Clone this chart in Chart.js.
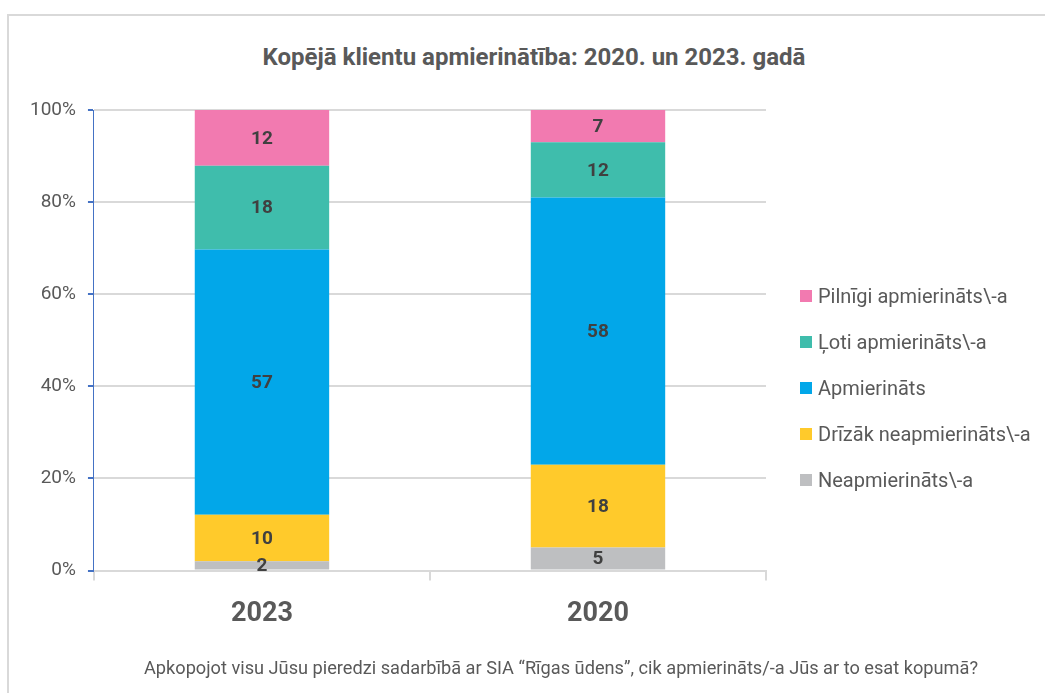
<!DOCTYPE html>
<html>
<head>
<meta charset="utf-8">
<script src="https://cdn.jsdelivr.net/npm/chart.js@4.4.1/dist/chart.umd.min.js"></script>
<style>
  html, body { margin: 0; padding: 0; background: #fff; }
  body { width: 1045px; height: 693px; position: relative; overflow: hidden; font-family: Roboto, sans-serif; }
  .frame { position: absolute; left: 7px; top: 14px; right: -10px; bottom: -10px; border: 2px solid #d9d9d9; }
  .wrap { position: absolute; left: 0; top: 0; width: 1045px; height: 693px; }
  .title { position: absolute; left: 0; width: 1068px; top: 42px; text-align: center; font-size: 24px; font-weight: bold; color: #595959; line-height: 30px; }
  .caption { position: absolute; left: 0; width: 1122px; top: 656px; text-align: center; font-size: 18.2px; color: #595959; line-height: 24px; white-space: nowrap; }
  .legend { position: absolute; left: 800px; top: 273px; }
  .legend-item { display: flex; align-items: center; height: 46px; margin: 0; font-size: 20px; color: #595959; }
  .legend-item .color { width: 12px; height: 12px; margin-right: 6px; display: inline-block; }
</style>
</head>
<body>
<div class="frame"></div>
<div class="title">Kopējā klientu apmierinātība: 2020. un 2023. gadā</div>
<div class="wrap"><canvas id="satisfactionChart" width="1045" height="693"></canvas></div>
<div class="legend"></div>
<div class="caption">Apkopojot visu Jūsu pieredzi sadarbībā ar SIA “Rīgas ūdens”, cik apmierināts/-a Jūs ar to esat kopumā?</div>
<script>
// data (percent of respondents)
const years = ["2023", "2020"];
const neapmierinats = [2, 5];
const drizakNeapmierinats = [10, 18];
const apmierinats = [57, 58];
const lotiApmierinats = [18, 12];
const pilnigiApmierinats = [12, 7];
const yTicks = [0, 20, 40, 60, 80, 100];

const series = [
  { label: "Neapmierināts\\-a", values: neapmierinats, color: "#bebfc1" },
  { label: "Drīzāk neapmierināts\\-a", values: drizakNeapmierinats, color: "#ffca2b" },
  { label: "Apmierināts", values: apmierinats, color: "#02a7e9" },
  { label: "Ļoti apmierināts\\-a", values: lotiApmierinats, color: "#3fbdac" },
  { label: "Pilnīgi apmierināts\\-a", values: pilnigiApmierinats, color: "#f27ab0" }
];

// 100% stacked: each year is scaled to its own total
const totals = years.map((_, i) => series.reduce((s, d) => s + d.values[i], 0));

// labels inside the segments
const segmentLabels = {
  id: "segmentLabels",
  afterDatasetsDraw(chart) {
    const ctx = chart.ctx;
    ctx.save();
    ctx.font = "bold 19px Roboto";
    ctx.fillStyle = "#404040";
    ctx.textAlign = "center";
    ctx.textBaseline = "middle";
    chart.data.datasets.forEach((ds, di) => {
      const meta = chart.getDatasetMeta(di);
      meta.data.forEach((bar, i) => {
        const y = (bar.y + bar.base) / 2;
        ctx.fillText(ds.raw[i], bar.x, y + 1);
      });
    });
    ctx.restore();
  }
};

const ctx = document.getElementById("satisfactionChart").getContext("2d");
new Chart(ctx, {
  type: "bar",
  data: {
    labels: years,
    datasets: series.map(s => ({
      label: s.label,
      raw: s.values,
      data: s.values.map((v, i) => v / totals[i] * 100),
      backgroundColor: s.color,
      borderWidth: 0,
      barPercentage: 0.8,
      categoryPercentage: 0.5
    }))
  },
  options: {
    responsive: false,
    animation: false,
    layout: { padding: { left: 18, right: 279, top: 110, bottom: 46 } },
    plugins: {
      legend: { display: false },
      tooltip: { enabled: false },
      title: { display: false }
    },
    scales: {
      x: {
        stacked: true,
        grid: { display: true, drawOnChartArea: false, tickLength: 10, tickColor: "#d9d9d9", lineWidth: 2, offset: true },
        border: { color: "#d9d9d9", width: 2 },
        ticks: { color: "#595959", font: { family: "Roboto", size: 27, weight: "bold" }, padding: 17 }
      },
      y: {
        stacked: true,
        min: 0,
        max: 100,
        afterBuildTicks: axis => { axis.ticks = yTicks.map(v => ({ value: v })); },
        grid: { color: "#d9d9d9", lineWidth: 2, tickLength: 6, tickColor: "#4472c4" },
        border: { color: "#4472c4", width: 1 },
        ticks: { color: "#595959", font: { family: "Roboto", size: 19 }, padding: 12, callback: v => v + "%" }
      }
    }
  },
  plugins: [segmentLabels]
});

// legend, top item is the top segment
const legendEl = document.querySelector(".legend");
legendEl.innerHTML = series.slice().reverse().map(s =>
  `<div class="legend-item"><span class="color" style="background:${s.color}"></span>${s.label}</div>`
).join("");
</script>
</body>
</html>
